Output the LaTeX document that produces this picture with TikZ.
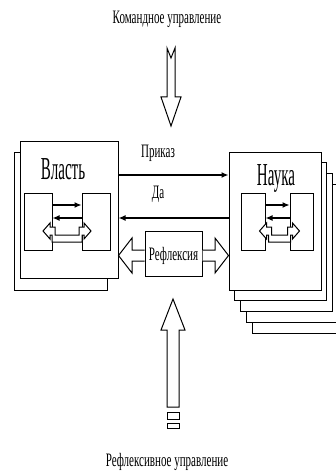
\documentclass[tikz,border=0pt]{standalone}
\usepackage{fontspec}
\usepackage{tikz}
\usetikzlibrary{arrows,arrows.meta,positioning,calc}
\newfontfamily\labfont{Liberation Serif}[FakeStretch=0.58]
\newfontfamily\headfont{Liberation Serif}[FakeStretch=0.47]
\tikzstyle{frame}=[draw,fill=white,line width=1pt,inner sep=0pt]
\tikzstyle{hollow}=[draw,fill=white,line width=1pt,line join=miter]
\tikzstyle{order}=[-{Latex[length=7pt,width=6pt]},line width=1.3pt]
\tikzstyle{lab}=[inner sep=0pt,font=\labfont\fontsize{19}{21}\selectfont]
\tikzstyle{head}=[inner sep=0pt,font=\headfont\fontsize{32}{34}\selectfont]

\begin{document}
\begin{tikzpicture}[x=1pt,y=-1pt,line width=1pt]
    \useasboundingbox (0,0) rectangle (336,476);
    % Vlast stack
    \node [frame,minimum width=93pt,minimum height=138pt] (vback) at (60.5,221) {};
    \node [frame,minimum width=98pt,minimum height=137pt] (vlast) at (69,209.5) {};
    \node [head] (vtext) at (63,169) {Власть};
    \node [frame,minimum width=28pt,minimum height=57pt] (vsl) at (38,221.5) {};
    \node [frame,minimum width=28pt,minimum height=57pt] (vsr) at (96,221.5) {};
    % Nauka stack
    \foreach \i in {4,3,2,1}
      \node [frame,minimum width=92pt,minimum height=138pt] (nb\i) at (275+5.8*\i,221+10.8*\i) {};
    \node [frame,minimum width=92pt,minimum height=138pt] (nauka) at (275,221) {};
    \node [head] (ntext) at (276,178) {Наука};
    \node [frame,minimum width=24pt,minimum height=57pt] (nsl) at (253,221.5) {};
    \node [frame,minimum width=23pt,minimum height=57pt] (nsr) at (301.5,221.5) {};
    % inner arrows
    \draw [order,line width=1.1pt] ([yshift=16.5pt]vsl.east) -- ([yshift=16.5pt]vsr.west);
    \draw [order,line width=2.2pt] ([yshift=3.5pt]vsr.west) -- ([yshift=3.5pt]vsl.east);
    \draw [order,line width=1.1pt] ([yshift=16.5pt]nsl.east) -- ([yshift=16.5pt]nsr.west);
    \draw [order,line width=2.2pt] ([yshift=3.5pt]nsr.west) -- ([yshift=3.5pt]nsl.east);
    \foreach \c/\h in {67/24,279.5/20}
      \draw [hollow] (\c-\h,231) -- (\c-\h+7,223) -- (\c-\h+7,227) -- (\c-\h+12,227)
        -- (\c-\h+12,235) -- (\c+\h-12,235) -- (\c+\h-12,227) -- (\c+\h-7,227)
        -- (\c+\h-7,223) -- (\c+\h,231) -- (\c+\h-7,239) -- (\c+\h-7,235)
        -- (\c+\h-9,235) -- (\c+\h-9,242) -- (\c-\h+9,242) -- (\c-\h+9,235)
        -- (\c-\h+7,235) -- (\c-\h+7,239) -- cycle;
    % orders
    \coordinate (pr) at (0,175);
    \coordinate (da) at (0,218);
    \draw [order] (vlast.east |- pr) -- (nauka.west |- pr);
    \draw [order] (nauka.west |- da) -- (vlast.east |- da);
    \node [lab] (prikaz) at (158,153) {Приказ};
    \node [lab] (yes) at (158,194) {Да};
    % reflexion
    \node [frame,minimum width=57pt,minimum height=45pt] (refl) at (173.5,253.5) {};
    \node [lab] (rtext) at (173.5,256) {Рефлексия};
    \draw [hollow] (refl.west |- 0,250) -- (132,250) -- (132,238) -- (vlast.east |- 0,255.5)
      -- (132,273) -- (132,261) -- (refl.west |- 0,261);
    \draw [hollow] (refl.east |- 0,250) -- (215,250) -- (215,238) -- (nauka.west |- 0,255.5)
      -- (215,273) -- (215,261) -- (refl.east |- 0,261);
    % command control
    \node [lab] (komand) at (167,19) {Командное управление};
    \draw [hollow] (167,48) -- (171,58) -- (175,48) -- (175,97) -- (181,97) -- (171,126)
      -- (161,97) -- (167,97) -- cycle;
    % reflexive control
    \draw [hollow] (173,299) -- (185,330) -- (179,330) -- (179,407) -- (167,407) -- (167,330)
      -- (161,330) -- cycle;
    \draw (167,412) rectangle (179,419);
    \draw (167,423) rectangle (179,428);
    \node [lab] (reflupr) at (167,462) {Рефлексивное управление};
\end{tikzpicture}
\end{document}
